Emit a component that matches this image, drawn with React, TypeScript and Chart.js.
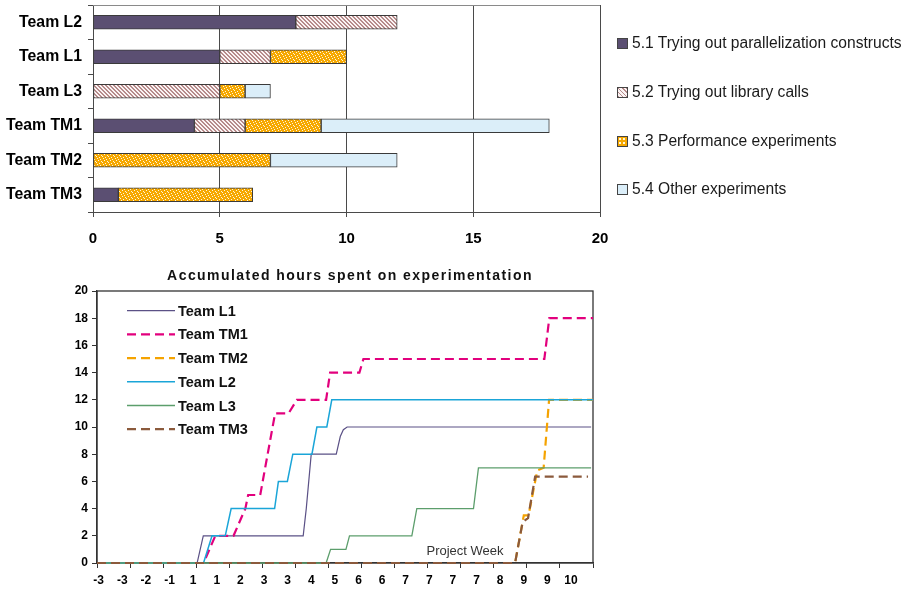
import React, { useEffect, useRef } from 'react';
import { Chart, registerables } from 'chart.js';

Chart.register(...registerables);

const FONT = "'Liberation Sans', Arial, Helvetica, sans-serif";

// ---------- Top chart: hours per activity, per team ----------
const teamLabels = ['Team L2', 'Team L1', 'Team L3', 'Team TM1', 'Team TM2', 'Team TM3'];
const activityNames = [
  '5.1 Trying out parallelization constructs',
  '5.2 Trying out library calls',
  '5.3 Performance experiments',
  '5.4 Other experiments',
];
const parallelizationHours = [8, 5, null, 4, null, 1];
const libraryCallHours = [4, 2, 5, 2, null, null];
const performanceHours = [null, 3, 1, 3, 7, 5.3];
const otherHours = [null, null, 1, 9, 5, null];

// ---------- Bottom chart: accumulated hours ----------
const chartTitle = 'Accumulated hours spent on experimentation';
const xAxisTitle = 'Project Week';
const weekLabels = ['-3', '-3', '-2', '-1', '1', '1', '2', '3', '3', '4', '5', '6', '6', '7', '7', '7', '7', '8', '9', '9', '10'];
const lineTeams = ['Team L1', 'Team TM1', 'Team TM2', 'Team L2', 'Team L3', 'Team TM3'];

const weeksL1 = [-0.07, 4.17, 4.43, 8.66, 8.79, 9.0, 10.06, 10.23, 10.36, 10.52, 20.85];
const hoursL1 = [0, 0, 2, 2, 4, 8, 8, 9.3, 9.8, 10, 10];

const weeksTM1 = [-0.07, 4.44, 4.94, 5.71, 6.21, 6.33, 6.84, 7.47, 8.04, 8.39, 9.63, 9.8, 11.04, 11.21, 18.87, 19.08, 20.93];
const hoursTM1 = [0, 0, 2, 2, 4, 5, 5, 11, 11, 12, 12, 14, 14, 15, 15, 18, 18];

const weeksTM2 = [-0.07, 17.63, 18.0, 18.2, 18.57, 18.84, 19.07, 20.93];
const hoursTM2 = [0, 0, 3.5, 3.5, 6.8, 7, 12, 12];

const weeksL2 = [-0.07, 4.44, 4.8, 5.36, 5.61, 7.45, 7.61, 7.99, 8.22, 9.03, 9.24, 9.66, 9.87, 20.93];
const hoursL2 = [0, 0, 2, 2, 4, 4, 6, 6, 8, 8, 10, 10, 12, 12];

const weeksL3 = [-0.07, 9.63, 9.82, 10.47, 10.62, 13.26, 13.47, 15.87, 16.08, 20.85];
const hoursL3 = [0, 0, 1, 1, 2, 2, 4, 4, 7, 7];

const weeksTM3 = [-0.07, 17.63, 17.95, 18.18, 18.48, 20.72];
const hoursTM3 = [0, 0, 3, 3.3, 6.35, 6.35];

function toPoints(xs: number[], ys: number[]) {
  return xs.map((x, i) => ({ x, y: ys[i] }));
}

function hatchPattern(ctx: CanvasRenderingContext2D) {
  const c = document.createElement('canvas');
  c.width = 4;
  c.height = 4;
  const g = c.getContext('2d')!;
  g.fillStyle = '#fbf4f4';
  g.fillRect(0, 0, 4, 4);
  g.fillStyle = '#b68b8b';
  for (let i = 0; i < 4; i++) {
    g.fillRect(i, i, 1, 1);
    g.fillRect((i + 1) % 4, i, 1, 1);
  }
  return ctx.createPattern(c, 'repeat')!;
}

function speckPattern(ctx: CanvasRenderingContext2D) {
  const c = document.createElement('canvas');
  c.width = 6;
  c.height = 6;
  const g = c.getContext('2d')!;
  g.fillStyle = '#f6a800';
  g.fillRect(0, 0, 6, 6);
  g.fillStyle = '#fff6dc';
  const dots = [[0, 0], [3, 1], [1, 2], [4, 3], [2, 4], [5, 5]];
  dots.forEach(([x, y]) => g.fillRect(x, y, 1, 1));
  return ctx.createPattern(c, 'repeat')!;
}

const topFramePlugin = {
  id: 'topFrame',
  afterDraw(chart: any) {
    const { ctx, chartArea: a } = chart;
    ctx.save();
    ctx.strokeStyle = '#8a8a8a';
    ctx.lineWidth = 1;
    ctx.beginPath();
    ctx.moveTo(a.left, a.top + 0.5);
    ctx.lineTo(a.right, a.top + 0.5);
    ctx.stroke();
    ctx.restore();
  },
};

const lineExtrasPlugin = {
  id: 'lineExtras',
  beforeDatasetsDraw(chart: any) {
    const { ctx, chartArea: a } = chart;
    ctx.save();
    ctx.strokeStyle = '#333';
    ctx.lineWidth = 1.3;
    ctx.strokeRect(a.left, a.top, a.right - a.left, a.bottom - a.top);
    ctx.restore();
  },
  afterDraw(chart: any) {
    const { ctx, chartArea: a } = chart;
    ctx.save();
    // title
    ctx.fillStyle = '#111';
    ctx.font = `bold 14px ${FONT}`;
    (ctx as any).letterSpacing = '1.45px';
    ctx.textAlign = 'center';
    ctx.textBaseline = 'middle';
    ctx.fillText(chartTitle, (a.left + a.right) / 2 + 5, a.top - 15);
    (ctx as any).letterSpacing = '0px';
    // legend
    chart.data.datasets.forEach((ds: any, i: number) => {
      const y = a.top + 19.7 + 23.7 * i;
      ctx.beginPath();
      ctx.setLineDash(ds.borderDash || []);
      ctx.strokeStyle = ds.borderColor;
      ctx.lineWidth = ds.borderWidth;
      ctx.moveTo(a.left + 30, y);
      ctx.lineTo(a.left + 78, y);
      ctx.stroke();
      ctx.setLineDash([]);
      ctx.fillStyle = '#111';
      ctx.font = `bold 14.5px ${FONT}`;
      ctx.textAlign = 'left';
      ctx.fillText(ds.label, a.left + 81, y + 1);
    });
    // axis title inside plot
    ctx.font = `13px ${FONT}`;
    ctx.fillStyle = '#333';
    ctx.textAlign = 'center';
    ctx.fillText(xAxisTitle, a.left + 368, a.bottom - 12);
    ctx.restore();
  },
};

const swatchStyles: any[] = [
  { background: '#5b4f72' },
  { background: 'repeating-linear-gradient(45deg, #b68b8b 0px, #b68b8b 1px, #fbf4f4 1px, #fbf4f4 3px)' },
  { background: '#f6a800', backgroundImage: 'radial-gradient(#fff6dc 35%, transparent 40%)', backgroundSize: '4px 4px' },
  { background: '#dbeef9' },
];

export default function App() {
  const topRef = useRef<HTMLCanvasElement>(null);
  const bottomRef = useRef<HTMLCanvasElement>(null);

  useEffect(() => {
    const c1 = topRef.current!;
    const ctx1 = c1.getContext('2d')!;
    const fills = ['#5b4f72', hatchPattern(ctx1), speckPattern(ctx1), '#dbeef9'];
    const seriesValues = [parallelizationHours, libraryCallHours, performanceHours, otherHours];

    const top = new Chart(c1, {
      type: 'bar',
      data: {
        labels: teamLabels,
        datasets: seriesValues.map((vals, i) => ({
          label: activityNames[i],
          data: vals as any,
          backgroundColor: fills[i] as any,
          borderColor: '#3a3a3a',
          borderWidth: 1,
          borderSkipped: false,
          barThickness: 14,
          stack: 'hours',
        })),
      },
      options: {
        indexAxis: 'y',
        animation: false,
        responsive: false,
        devicePixelRatio: 1,
        layout: { padding: { top: 5, right: 20, left: 0, bottom: 0 } },
        plugins: { legend: { display: false }, tooltip: { enabled: false }, title: { display: false } },
        scales: {
          x: {
            type: 'linear',
            min: 0,
            max: 20,
            stacked: true,
            ticks: { stepSize: 5, color: '#000', padding: 13, font: { family: FONT, size: 15, weight: 'bold' } },
            grid: { color: '#4a4a4a', lineWidth: 1, tickLength: 5, tickColor: '#4a4a4a' },
            border: { color: '#4a4a4a' },
            afterFit: (s: any) => { s.height = 38; s.paddingLeft = 0; s.paddingRight = 0; },
          },
          y: {
            type: 'category',
            stacked: true,
            offset: true,
            ticks: { color: '#000', padding: 6, font: { family: FONT, size: 15.8, weight: 'bold' } },
            grid: { drawOnChartArea: false, offset: true, tickLength: 5, color: '#4a4a4a' },
            border: { color: '#4a4a4a' },
            afterFit: (s: any) => { s.width = 93; s.paddingTop = 0; s.paddingBottom = 0; },
          },
        },
      } as any,
      plugins: [topFramePlugin],
    });

    const lineSpecs = [
      { weeks: weeksL1, hours: hoursL1, color: '#5b5186', width: 1.2, dash: [] as number[] },
      { weeks: weeksTM1, hours: hoursTM1, color: '#e2007d', width: 2.2, dash: [9, 5] },
      { weeks: weeksTM2, hours: hoursTM2, color: '#f5a300', width: 2.2, dash: [9, 5] },
      { weeks: weeksL2, hours: hoursL2, color: '#1aa5d8', width: 1.5, dash: [] as number[] },
      { weeks: weeksL3, hours: hoursL3, color: '#5c9e6c', width: 1.3, dash: [] as number[] },
      { weeks: weeksTM3, hours: hoursTM3, color: '#8b5a3c', width: 2.2, dash: [9, 5] },
    ];

    const bottom = new Chart(bottomRef.current!, {
      type: 'line',
      data: {
        datasets: lineSpecs.map((s, i) => ({
          label: lineTeams[i],
          data: toPoints(s.weeks, s.hours),
          borderColor: s.color,
          backgroundColor: s.color,
          borderWidth: s.width,
          borderDash: s.dash,
          pointRadius: 0,
          tension: 0,
          fill: false,
          clip: 4,
          order: lineSpecs.length - i,
        })),
      },
      options: {
        animation: false,
        responsive: false,
        devicePixelRatio: 1,
        layout: { padding: { top: 31, right: 7, left: 0, bottom: 0 } },
        plugins: { legend: { display: false }, tooltip: { enabled: false }, title: { display: false } },
        scales: {
          x: {
            type: 'linear',
            min: -0.07,
            max: 20.93,
            afterBuildTicks: (scale: any) => {
              const ticks: any[] = [];
              weekLabels.forEach((_, i) => ticks.push({ value: i }));
              const n = 15;
              for (let k = 0; k <= n; k++) ticks.push({ value: scale.min + (k * (scale.max - scale.min)) / n });
              ticks.sort((a, b) => a.value - b.value);
              scale.ticks = ticks;
            },
            ticks: {
              autoSkip: false,
              maxRotation: 0,
              minRotation: 0,
              padding: 5,
              color: '#000',
              font: { family: FONT, size: 12, weight: 'bold' },
              callback: (v: any) => (Number.isInteger(v) && v >= 0 && v < weekLabels.length ? weekLabels[v] : ''),
            },
            grid: {
              drawOnChartArea: false,
              tickLength: 5,
              tickColor: (c: any) => (c.tick && Number.isInteger(c.tick.value) ? 'rgba(0,0,0,0)' : '#333'),
            },
            border: { color: '#333', width: 1.3 },
            afterFit: (s: any) => { s.height = 31; },
          },
          y: {
            type: 'linear',
            min: 0,
            max: 20,
            ticks: { stepSize: 2, padding: 4, color: '#000', font: { family: FONT, size: 12, weight: 'bold' } },
            grid: { drawOnChartArea: false, tickLength: 5, color: '#333' },
            border: { color: '#333', width: 1.3 },
            afterFit: (s: any) => { s.width = 97; },
          },
        },
      } as any,
      plugins: [lineExtrasPlugin],
    });

    return () => {
      top.destroy();
      bottom.destroy();
    };
  }, []);

  const legendCenters = [43, 92, 141, 189];

  return (
    <div style={{ position: 'absolute', left: 0, top: 0, width: 909, height: 594, background: '#fff', overflow: 'hidden', fontFamily: FONT }}>
      <canvas ref={topRef} width={620} height={250} style={{ position: 'absolute', left: 0, top: 0, width: 620, height: 250 }} />
      {activityNames.map((name, i) => (
        <div
          key={name}
          style={{ position: 'absolute', left: 617, top: legendCenters[i] - 9, height: 18, display: 'flex', alignItems: 'center', fontSize: 15.6, color: '#1a1a1a', whiteSpace: 'nowrap' }}
        >
          <span style={{ display: 'inline-block', width: 9, height: 9, border: '1px solid #444', marginRight: 4, ...swatchStyles[i] }} />
          <span>{name}</span>
        </div>
      ))}
      <canvas ref={bottomRef} width={600} height={334} style={{ position: 'absolute', left: 0, top: 260, width: 600, height: 334 }} />
    </div>
  );
}
